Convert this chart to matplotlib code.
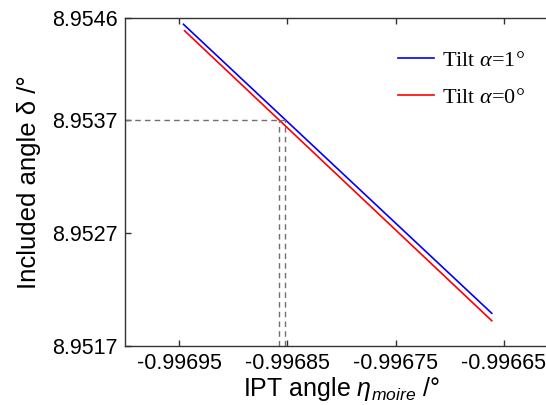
import numpy as np
import matplotlib
matplotlib.use("Agg")
import matplotlib.pyplot as plt

plt.rcParams['font.family'] = ['Liberation Sans', 'DejaVu Sans']
plt.rcParams['mathtext.fontset'] = 'custom'
plt.rcParams['mathtext.rm'] = 'Liberation Serif'
plt.rcParams['mathtext.it'] = 'Liberation Serif:italic'
plt.rcParams['mathtext.sf'] = 'Liberation Sans:italic'

# IPT angle (deg) at the ends of each line
eta_tilt1 = [-0.996946, -0.996661]
eta_tilt0 = [-0.996945, -0.996661]
# included angle (deg)
delta_tilt1 = [8.954547, 8.951987]
delta_tilt0 = [8.954490, 8.951921]

delta_ref = 8.9537

xticks = [-0.99695, -0.99685, -0.99675, -0.99665]
xticklabels = ['-0.99695', '-0.99685', '-0.99675', '-0.99665']
yticks = [8.9517, 8.9527, 8.9537, 8.9546]
yticklabels = ['8.9517', '8.9527', '8.9537', '8.9546']

fig = plt.figure(figsize=(5.46, 4.05), dpi=100)
# axes runs off the right edge like the original screenshot
ax = fig.add_axes([0.229, 0.1464, 0.7926, 0.8084])

ax.plot(eta_tilt1, delta_tilt1, color='#0000ff', lw=1.2, label=r'Tilt $\alpha$=1°')
ax.plot(eta_tilt0, delta_tilt0, color='#ff0000', lw=1.2, label=r'Tilt $\alpha$=0°')

# where each line crosses the reference angle
x1 = np.interp(delta_ref, delta_tilt1[::-1], eta_tilt1[::-1])
x0 = np.interp(delta_ref, delta_tilt0[::-1], eta_tilt0[::-1])

xmin, xmax = -0.997, -0.9966
ymin, ymax = 8.9517, 8.9546
dash = dict(color='#707070', lw=1.0, ls=(0, (4, 3)))
ax.plot([xmin, max(x0, x1)], [delta_ref, delta_ref], **dash)
ax.plot([x0, x0], [ymin, delta_ref], **dash)
ax.plot([x1, x1], [ymin, delta_ref], **dash)

ax.set_xlim(xmin, xmax)
ax.set_ylim(ymin, ymax)
ax.set_xticks(xticks)
ax.set_xticklabels(xticklabels)
ax.set_yticks(yticks)
ax.set_yticklabels(yticklabels)
ax.tick_params(direction='in', length=4, width=1, top=True, right=True,
               labelsize=15.5, color='#333333', pad=5)
for s in ax.spines.values():
    s.set_color('#333333')
    s.set_linewidth(1.0)

ax.set_xlabel(r'IPT angle $\mathsf{\eta_{moire}}$ /°', fontsize=18, labelpad=1)
ax.set_ylabel('Included angle δ /°', fontsize=18.5, labelpad=8)

fig.legend(loc='upper left', bbox_to_anchor=(398 / 546, 1 - 50 / 405),
           frameon=False, borderpad=0, borderaxespad=0,
           handlelength=1.6, handletextpad=0.4, labelspacing=0.75,
           prop={'family': 'Liberation Serif', 'size': 16})

fig.savefig('out.png', dpi=100)
